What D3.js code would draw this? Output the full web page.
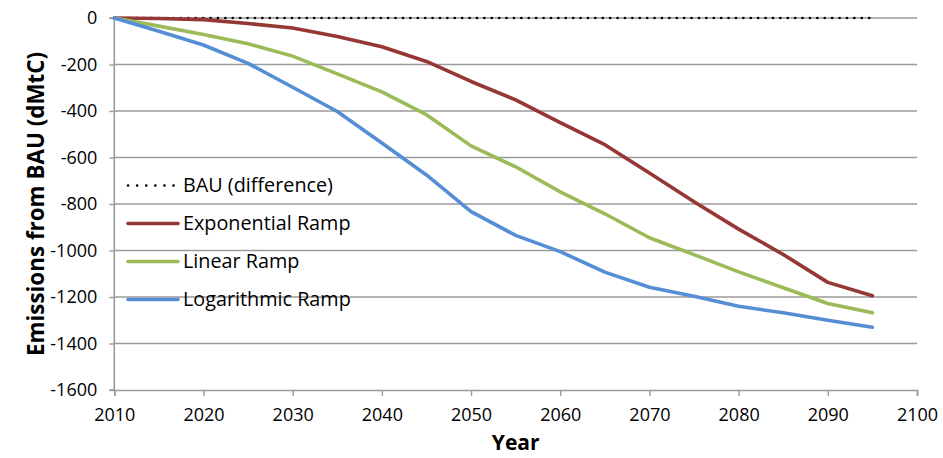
<!DOCTYPE html>
<html>
<head>
<meta charset="utf-8">
<script src="https://cdn.jsdelivr.net/npm/d3@7"></script>
<style>
  html, body { margin: 0; padding: 0; background: #fff; }
  svg { display: block; font-family: "Open Sans", "Noto Sans", sans-serif; }
</style>
</head>
<body>
<svg id="chart" width="943" height="458"></svg>
<script>
const years = [2010, 2015, 2020, 2025, 2030, 2035, 2040, 2045, 2050, 2055, 2060, 2065, 2070, 2075, 2080, 2085, 2090, 2095];
const bau = [0, 0, 0, 0, 0, 0, 0, 0, 0, 0, 0, 0, 0, 0, 0, 0, 0, 0];
const exponentialRamp = [0, -2, -7, -24, -43, -80, -124, -187, -273, -352, -450, -545, -667, -790, -908, -1017, -1137, -1195];
const linearRamp = [0, -35, -71, -111, -164, -240, -318, -416, -550, -640, -748, -842, -945, -1018, -1092, -1160, -1228, -1268];
const logarithmicRamp = [0, -57, -116, -195, -298, -402, -538, -675, -833, -935, -1005, -1093, -1158, -1197, -1240, -1268, -1300, -1330];
const seriesNames = ["BAU (difference)", "Exponential Ramp", "Linear Ramp", "Logarithmic Ramp"];
const xTicks = [2010, 2020, 2030, 2040, 2050, 2060, 2070, 2080, 2090, 2100];
const yTicks = [0, -200, -400, -600, -800, -1000, -1200, -1400, -1600];
const xTitle = "Year";
const yTitle = "Emissions from BAU (dMtC)";

const svg = d3.select("#chart");
const x = d3.scaleLinear().domain([2010, 2100]).range([114.3, 917]);
const y = d3.scaleLinear().domain([-1600, 0]).range([390, 18]);
const gridColor = "#9a9a9a";
const fmt = d => String(d);

// gridlines
svg.append("g").selectAll("line").data(yTicks.filter(d => d !== -1600)).join("line")
  .attr("x1", x(2010)).attr("x2", x(2100))
  .attr("y1", d => y(d)).attr("y2", d => y(d))
  .attr("stroke", gridColor).attr("stroke-width", 1.4);

// y axis
const yAxis = d3.axisLeft(y).tickValues(yTicks).tickSize(5).tickPadding(12).tickFormat(fmt);
const gy = svg.append("g").attr("transform", `translate(${x(2010)},0)`).call(yAxis);
// x axis
const xAxis = d3.axisBottom(x).tickValues(xTicks).tickSize(6).tickPadding(12).tickFormat(fmt);
const gx = svg.append("g").attr("transform", `translate(0,${y(-1600)})`).call(xAxis);

[gx, gy].forEach(g => {
  g.select(".domain").attr("stroke", gridColor).attr("stroke-width", 1.6);
  g.selectAll(".tick line").attr("stroke", gridColor).attr("stroke-width", 1.4);
  g.selectAll(".tick text").attr("fill", "#000").style("font-size", "18px")
    .style("font-family", '"Open Sans", sans-serif');
});
gy.select(".domain").attr("d", `M-5,${y(-1600)}H0V${y(0)}H-5`);

// lines
const line = d3.line().x((d, i) => x(years[i])).y(d => y(d));
const series = [
  { name: seriesNames[0], values: bau, color: "#000", width: 2.6, dash: "0.1 7.3" },
  { name: seriesNames[1], values: exponentialRamp, color: "#953735", width: 3.6, dash: null },
  { name: seriesNames[2], values: linearRamp, color: "#9BBB59", width: 3.6, dash: null },
  { name: seriesNames[3], values: logarithmicRamp, color: "#558ED5", width: 3.6, dash: null }
];
series.forEach(s => {
  const p = svg.append("path").datum(s.values)
    .attr("d", line).attr("fill", "none")
    .attr("stroke", s.color).attr("stroke-width", s.width)
    .attr("stroke-linejoin", "round").attr("stroke-linecap", "round");
  if (s.dash) p.attr("stroke-dasharray", s.dash);
});

// legend
const legendY = [185.5, 223.5, 261.5, 299.5];
const lg = svg.append("g");
series.forEach((s, i) => {
  const gi = lg.append("g").attr("transform", `translate(0,${legendY[i]})`);
  const l = gi.append("line").attr("x1", 128).attr("x2", 178).attr("y1", 0).attr("y2", 0)
    .attr("stroke", s.color).attr("stroke-width", s.dash ? 2.6 : 3.6).attr("stroke-linecap", "round");
  if (s.dash) l.attr("stroke-dasharray", "0.1 9");
  gi.append("text").attr("x", 183).attr("y", 0).attr("dy", "0.35em")
    .style("font-size", "19.8px").attr("fill", "#000").text(s.name);
});

// axis titles
svg.append("text").attr("x", (x(2010) + x(2100)) / 2).attr("y", 450)
  .attr("text-anchor", "middle").style("font-size", "21px").style("font-weight", "bold")
  .text(xTitle);
svg.append("text").attr("transform", `translate(44,${(y(0) + y(-1600)) / 2}) rotate(-90)`)
  .attr("text-anchor", "middle").style("font-size", "22.4px").style("font-weight", "bold")
  .text(yTitle);
</script>
</body>
</html>
